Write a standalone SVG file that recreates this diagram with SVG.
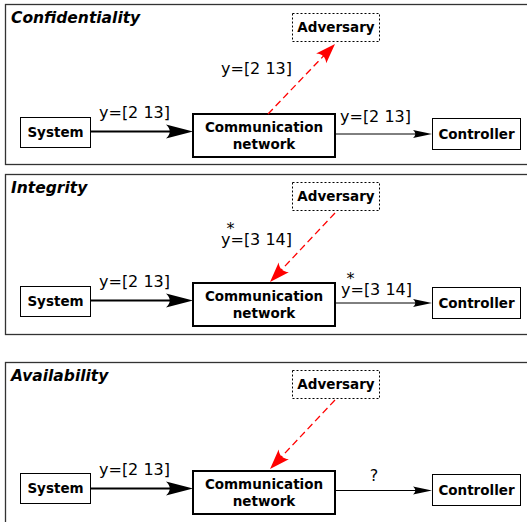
<svg xmlns="http://www.w3.org/2000/svg" width="527" height="522" viewBox="0 0 527 522">
<style>
text{font-family:"DejaVu Sans","Liberation Sans",sans-serif;fill:#000}
.title{font-size:15.5px;font-weight:bold;font-style:italic}
.node{font-size:13.5px;font-weight:bold;text-anchor:middle}
.lbl{font-size:16px}
.frame{fill:#fff;stroke:#333;stroke-width:1.3}
.box{fill:#fff;stroke:#000;stroke-width:1}
.net{fill:#fff;stroke:#000;stroke-width:2}
.adv{fill:#fff;stroke:#000;stroke-width:1;stroke-dasharray:2,2}
.thick{stroke:#000;stroke-width:2;fill:none}
.thin{stroke:#000;stroke-width:1;fill:none}
.red{stroke:#f00;stroke-width:1.3;stroke-dasharray:7,4;fill:none}
</style>
<defs>
<marker id="big" markerUnits="userSpaceOnUse" markerWidth="1" markerHeight="1" refX="0" refY="0" orient="auto" overflow="visible"><path d="M15 0 L-12 -7 C-7 -2.5 -7 2.5 -12 7 Z" fill="#000"/></marker>
<marker id="small" markerUnits="userSpaceOnUse" markerWidth="1" markerHeight="1" refX="0" refY="0" orient="auto" overflow="visible"><path d="M5 0 L-14 -4 C-11 -1.5 -11 1.5 -14 4 Z" fill="#000"/></marker>
<marker id="redhead" markerUnits="userSpaceOnUse" markerWidth="1" markerHeight="1" refX="0" refY="0" orient="auto" overflow="visible"><path d="M10 0 L-10 -7 C-6 -2.5 -6 2.5 -10 7 Z" fill="#f00"/></marker>
</defs>
<rect width="527" height="522" fill="#fff"/>
<g id="frames">
<rect class="frame" x="5.5" y="4.5" width="530" height="160"/>
<rect class="frame" x="5.5" y="174.5" width="530" height="160"/>
<rect class="frame" x="5.5" y="362.5" width="530" height="170"/>
</g>
<text class="title" x="11" y="23">Confidentiality</text>
<text class="title" x="11" y="193">Integrity</text>
<text class="title" x="11" y="381">Availability</text>

<g id="panel1">
<g id="system1"><rect class="box" x="20.5" y="117.5" width="70" height="30"/><text class="node" x="55.5" y="137">System</text></g>
<g id="network1"><rect class="net" x="193" y="114" width="142" height="43"/><text class="node" x="264" y="132">Communication</text><text class="node" x="264" y="149">network</text></g>
<g id="controller1"><rect class="box" x="432.5" y="118.5" width="88" height="31"/><text class="node" x="476.5" y="139">Controller</text></g>
<g id="adversary1"><rect class="adv" x="292.5" y="13.5" width="87" height="28"/><text class="node" x="336" y="32">Adversary</text></g>
<g id="connectors1">
<line class="thick" x1="90.5" y1="131.5" x2="178" y2="131.5" marker-end="url(#big)"/>
<text class="lbl" x="99" y="118">y=[2 13]</text>
<line class="thin" x1="335" y1="134" x2="427" y2="134" marker-end="url(#small)"/>
<text class="lbl" x="340" y="122">y=[2 13]</text>
<line class="red" x1="268" y1="114" x2="328.1" y2="51.2" marker-end="url(#redhead)"/>
<text class="lbl" x="221" y="74">y=[2 13]</text>
</g>
</g>

<g id="panel2" transform="translate(0,169)">
<g id="system2"><rect class="box" x="20.5" y="117.5" width="70" height="30"/><text class="node" x="55.5" y="137">System</text></g>
<g id="network2"><rect class="net" x="193" y="114" width="142" height="43"/><text class="node" x="264" y="132">Communication</text><text class="node" x="264" y="149">network</text></g>
<g id="controller2"><rect class="box" x="432.5" y="118.5" width="88" height="31"/><text class="node" x="476.5" y="139">Controller</text></g>
<g id="adversary2"><rect class="adv" x="292.5" y="13.5" width="87" height="28"/><text class="node" x="336" y="32">Adversary</text></g>
<g id="connectors2">
<line class="thick" x1="90.5" y1="131.5" x2="178" y2="131.5" marker-end="url(#big)"/>
<text class="lbl" x="99" y="118">y=[2 13]</text>
<line class="thin" x1="335" y1="134" x2="427" y2="134" marker-end="url(#small)"/>
<text class="lbl" x="341" y="126">y<tspan dx="-4" dy="-11">*</tspan><tspan dx="-4" dy="11">=[3 14]</tspan></text>
<line class="red" x1="335" y1="44" x2="276.9" y2="105.7" marker-end="url(#redhead)"/>
<text class="lbl" x="221" y="76">y<tspan dx="-4" dy="-11">*</tspan><tspan dx="-4" dy="11">=[3 14]</tspan></text>
</g>
</g>

<g id="panel3" transform="translate(0,357)">
<g id="system3"><rect class="box" x="20.5" y="116.5" width="70" height="30"/><text class="node" x="55.5" y="136">System</text></g>
<g id="network3"><rect class="net" x="193" y="114" width="142" height="43"/><text class="node" x="264" y="132">Communication</text><text class="node" x="264" y="149">network</text></g>
<g id="controller3"><rect class="box" x="432.5" y="117.5" width="88" height="31"/><text class="node" x="476.5" y="138">Controller</text></g>
<g id="adversary3"><rect class="adv" x="292.5" y="13.5" width="87" height="28"/><text class="node" x="336" y="32">Adversary</text></g>
<g id="connectors3">
<line class="thick" x1="90.5" y1="131.5" x2="178" y2="131.5" marker-end="url(#big)"/>
<text class="lbl" x="99" y="118">y=[2 13]</text>
<line class="thin" x1="335" y1="133.5" x2="427" y2="133.5" marker-end="url(#small)"/>
<text class="lbl" x="374" y="124" text-anchor="middle">?</text>
<line class="red" x1="335" y1="43" x2="276.9" y2="104.7" marker-end="url(#redhead)"/>
</g>
</g>
</svg>
